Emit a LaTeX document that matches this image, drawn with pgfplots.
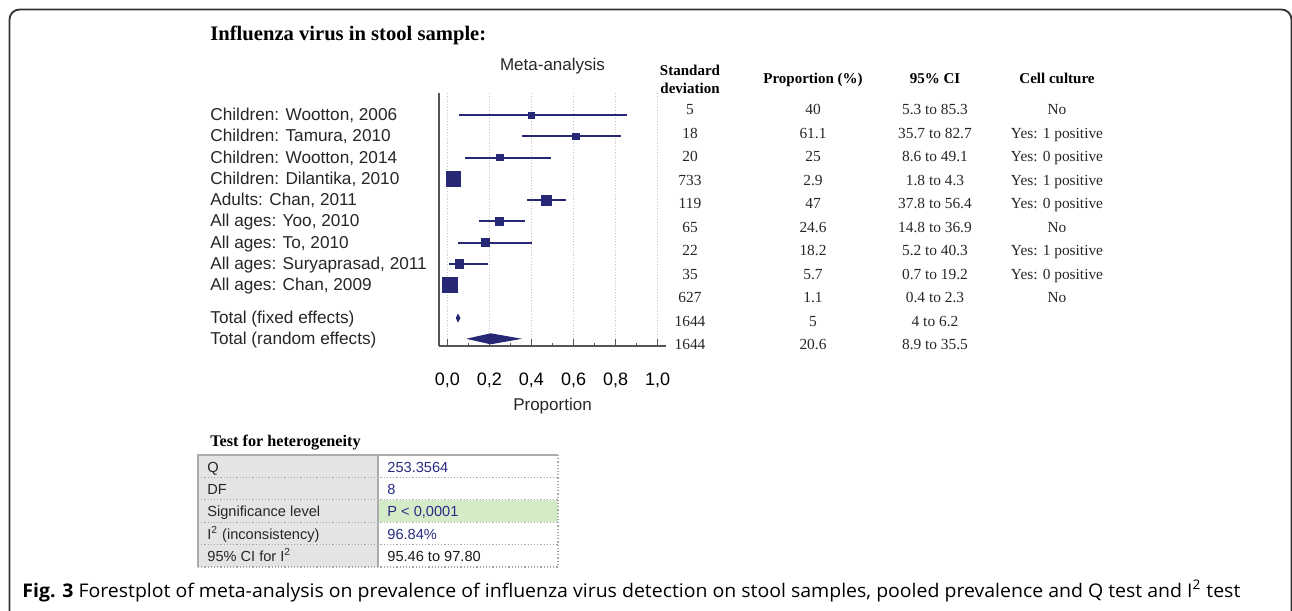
\documentclass[border=0pt]{standalone}
\usepackage{fontspec}
\setmainfont{Liberation Sans}
\newfontfamily\tms{Liberation Serif}
\newfontfamily\capfont{Open Sans}
\usepackage{graphicx}
\usepackage{pgfplots}
\usepackage{pgfplotstable}
\pgfplotsset{compat=1.18}
\definecolor{fp}{RGB}{38,40,118}
\definecolor{hnavy}{RGB}{40,44,130}
\definecolor{hgray}{RGB}{228,228,228}
\definecolor{hgreen}{RGB}{212,235,200}
\definecolor{axg}{RGB}{85,85,85}
\newcommand{\fs}[1]{\fontsize{#1}{#1}\selectfont}

\pgfplotstableread{
r p em ep s
1 0.400 0.347 0.453 1.65
2 0.611 0.254 0.216 1.6
3 0.250 0.164 0.241 1.6
4 0.029 0.011 0.014 3.65
5 0.470 0.092 0.094 2.4
6 0.246 0.098 0.123 2.1
7 0.182 0.130 0.221 2.1
8 0.057 0.050 0.135 2.15
9 0.011 0.007 0.012 3.65
}\studies

\begin{document}
\begin{tikzpicture}
\begin{scope}[x=0.5pt,y=-0.5pt]
\useasboundingbox (0,0) rectangle (1292,611);
\begin{scope}
\clip (0,0) rectangle (1292,611);
\draw[line width=0.9pt, color=black!80, rounded corners=5pt] (9.5,720) -- (9.5,9.5) -- (1291.5,9.5) -- (1291.5,720);
\end{scope}
\end{scope}

\begin{axis}[
 at={(219.5pt,-173pt)}, anchor=south west,
 scale only axis, width=113.5pt, height=126.5pt,
 xmin=-0.04, xmax=1.04, ymin=-0.05, ymax=11.88, y dir=reverse,
 axis x line=bottom, axis y line=left,
 axis line style={-, color=axg, line width=0.9pt},
 xtick={0,0.2,0.4,0.6,0.8,1.0},
 xticklabels={{0,0},{0,2},{0,4},{0,6},{0,8},{1,0}},
 minor xtick={0.1,0.3,0.5,0.7,0.9},
 tick align=inside,
 major tick length=3.5pt, minor tick length=1.6pt,
 xtick style={color=axg, line width=0.6pt},
 xmajorgrids, grid style={densely dotted, gray!45, line width=0.5pt},
 xticklabel style={anchor=base, inner sep=0pt, yshift=-19.85pt, font=\fs{9}},
 ytick={1,2,3,4,5,6,7,8,9,10.55,11.55},
 yticklabels={{Children: Wootton, 2006},{Children: Tamura, 2010},{Children: Wootton, 2014},{Children: Dilantika, 2010},{Adults: Chan, 2011},{All ages: Yoo, 2010},{All ages: To, 2010},{All ages: Suryaprasad, 2011},{All ages: Chan, 2009},{Total (fixed effects)},{Total (random effects)}},
 yticklabel style={anchor=base west, inner sep=0pt, xshift=-114.5pt, yshift=-2.75pt, font=\fs{8.6}, text=black!85},
 ytick style={draw=none},
 xlabel={Proportion},
 xlabel style={at={(axis description cs:0.5,0)}, anchor=base, inner sep=0pt, yshift=-32pt, font=\fs{8.5}, text=black!85},
 title={Meta-analysis},
 title style={at={(axis description cs:0.5,1)}, anchor=base, inner sep=0pt, yshift=5.5pt, font=\fs{8.5}, text=black!85},
 clip=false,
]
\addplot[only marks, mark=square*, color=fp,
  scatter, scatter/use mapped color={draw=fp, fill=fp},
  visualization depends on={\thisrow{s} \as \msz},
  scatter/@pre marker code/.append style={/tikz/mark size=\msz},
  error bars/.cd, x dir=both, x explicit, error mark=none,
  error bar style={line width=1pt, color=fp}]
  table[x=p, y=r, x error minus=em, x error plus=ep] {\studies};
\addplot[fill=fp, draw=none] coordinates {(0.040,10.56) (0.050,10.34) (0.062,10.56) (0.050,10.78) (0.040,10.56)};
\addplot[fill=fp, draw=none] coordinates {(0.089,11.54) (0.206,11.28) (0.355,11.54) (0.206,11.80) (0.089,11.54)};
\end{axis}

\begin{scope}[x=0.5pt,y=-0.5pt]
% title
\node[anchor=base west, inner sep=0pt, font=\tms\bfseries\fs{10.3}] at (210,40.7) {Influenza virus in stool sample:};
% table headers
\begin{scope}[every node/.style={anchor=base, inner sep=0pt, font=\tms\bfseries\fs{7.5}}]
\node at (690,75) {Standard};
\node at (690,93) {deviation};
\node at (813,83) {Proportion (\%)};
\node at (935,83) {95\% CI};
\node at (1057,83) {Cell culture};
\end{scope}
\begin{scope}[every node/.style={anchor=base, inner sep=0pt, font=\tms\fs{7.7}, text=black!85}]
\foreach \sd/\pr/\ci/\cc [count=\i from 0] in {5/40/5.3 to 85.3/No, 18/61.1/35.7 to 82.7/Yes: 1 positive, 20/25/8.6 to 49.1/Yes: 0 positive, 733/2.9/1.8 to 4.3/Yes: 1 positive, 119/47/37.8 to 56.4/Yes: 0 positive, 65/24.6/14.8 to 36.9/No, 22/18.2/5.2 to 40.3/Yes: 1 positive, 35/5.7/0.7 to 19.2/Yes: 0 positive, 627/1.1/0.4 to 2.3/No, 1644/5/4 to 6.2/{}, 1644/20.6/8.9 to 35.5/{}}{
  \pgfmathsetmacro\yy{114.6+23.5*\i}
  \node at (690,\yy) {\sd};
  \node at (813,\yy) {\pr};
  \node at (935,\yy) {\ci};
  \node at (1057,\yy) {\cc};
}
\end{scope}
% heterogeneity table
\node[anchor=base west, inner sep=0pt, font=\tms\bfseries\fs{8.1}] at (210,446) {Test for heterogeneity};
\fill[hgray] (198,455) rectangle (378,567);
\fill[hgreen] (378,499.8) rectangle (558,522.2);
\foreach \yy in {477.4,499.8,522.2,544.6,567} \draw[densely dotted, gray!70, line width=0.6pt] (198,\yy) -- (558,\yy);
\draw[densely dotted, gray!70, line width=0.6pt] (558,455) -- (558,567);
\draw[gray!65, line width=1pt] (198,567) -- (198,455) -- (558,455);
\draw[gray!65, line width=1pt] (378,455) -- (378,567);
\begin{scope}[every node/.style={anchor=base west, inner sep=0pt, font=\fs{7.3}}]
\node[text=black!85] at (207,472) {Q};
\node[text=black!85] at (207,494.4) {DF};
\node[text=black!85] at (207,516.8) {Significance level};
\node[text=black!85] at (207,539.2) {I\textsuperscript{2} (inconsistency)};
\node[text=black!85] at (207,561.6) {95\% CI for I\textsuperscript{2}};
\node[text=hnavy] at (387,472) {253.3564};
\node[text=hnavy] at (387,494.4) {8};
\node[text=hnavy] at (387,516.8) {P < 0,0001};
\node[text=hnavy] at (387,539.2) {96.84\%};
\node[text=black!90] at (387,561.6) {95.46 to 97.80};
\end{scope}
% caption
\node[anchor=base west, inner sep=0pt] at (22,597) {\resizebox{609pt}{\height}{\capfont\fs{9.4}\textbf{Fig. 3} Forestplot of meta-analysis on prevalence of influenza virus detection on stool samples, pooled prevalence and Q test and I\textsuperscript{2} test}};
\end{scope}
\end{tikzpicture}
\end{document}
